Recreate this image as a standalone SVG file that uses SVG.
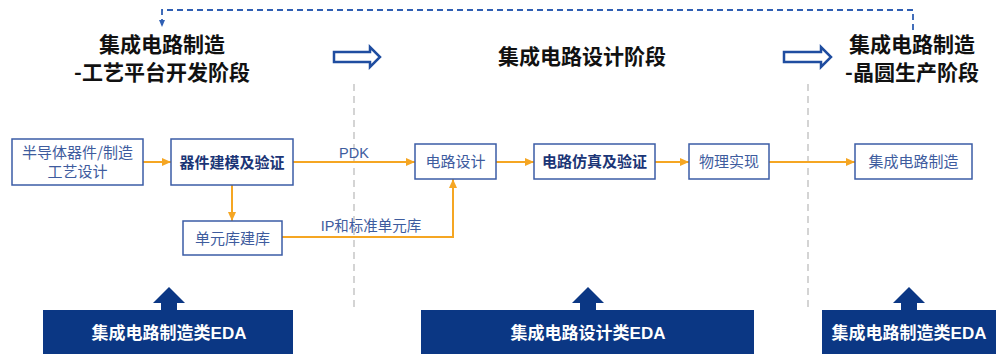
<svg xmlns="http://www.w3.org/2000/svg" width="1003" height="354" viewBox="0 0 1003 354">
<defs>
<style>
.title{font-family:"Noto Sans CJK SC","Liberation Sans",sans-serif;font-weight:bold;font-size:21px;fill:#111;text-anchor:middle}
.box{fill:#fff;stroke:#3b5ca6;stroke-width:1.5}
.bt{font-family:"Noto Sans CJK SC",sans-serif;font-size:15px;fill:#3e5c9e;text-anchor:middle}
.bb{font-family:"Noto Sans CJK SC",sans-serif;font-size:15px;font-weight:bold;fill:#1b3576;text-anchor:middle}
.lbl{font-family:"Liberation Sans","Noto Sans CJK SC",sans-serif;font-size:14.5px;fill:#3e5c9e;text-anchor:middle}
.conn{fill:none;stroke:#f5a623;stroke-width:2}
.sep{fill:none;stroke:#d4d4d4;stroke-width:2;stroke-dasharray:7 5}
.hollow{fill:#fff;stroke:#1f4da0;stroke-width:2.5;stroke-linejoin:miter}
.bar{fill:#0b3784}
.bart{font-family:"Liberation Sans","Noto Sans CJK SC",sans-serif;font-size:17px;font-weight:bold;fill:#fff;text-anchor:middle}
</style>
<marker id="oa" markerUnits="userSpaceOnUse" markerWidth="10" markerHeight="10" viewBox="0 0 10 10" refX="9" refY="5" orient="auto">
<path d="M0,1 L9,5 L0,9 Z" fill="#f5a623"/>
</marker>
<marker id="ba" markerUnits="userSpaceOnUse" markerWidth="8" markerHeight="8" viewBox="0 0 8 8" refX="7" refY="4" orient="auto">
<path d="M0,1 L7,4 L0,7 Z" fill="#2f5fb3"/>
</marker>
</defs>
<rect width="1003" height="354" fill="#fff"/>

<g id="separators">
<line class="sep" x1="354" y1="84" x2="354" y2="310"/>
<line class="sep" x1="808" y1="84" x2="808" y2="310"/>
</g>

<g id="titles">
<g id="title-1">
<text class="title" x="162" y="52">集成电路制造</text>
<text class="title" x="162" y="80">-工艺平台开发阶段</text>
</g>
<g id="title-2">
<text class="title" x="582" y="64">集成电路设计阶段</text>
</g>
<g id="title-3">
<text class="title" x="912" y="52">集成电路制造</text>
<text class="title" x="912" y="80">-晶圆生产阶段</text>
</g>
<g id="hollow-arrow-1"><path class="hollow" d="M334,52 H370 V47 L380,57 L370,67 V62 H334 Z"/></g>
<g id="hollow-arrow-2"><path class="hollow" d="M784,52 H821 V47 L831,57 L821,67 V62 H784 Z"/></g>
</g>

<g id="connectors">
<path d="M913,30 V10 H162 V27" fill="none" stroke="#2f5fb3" stroke-width="1.8" stroke-dasharray="6 4" marker-end="url(#ba)"/>
<path class="conn" d="M143,162 H171" marker-end="url(#oa)"/>
<path class="conn" d="M293,162 H415" marker-end="url(#oa)"/>
<path class="conn" d="M232,185 V221" marker-end="url(#oa)"/>
<path class="conn" d="M282,237 H453 V179" marker-end="url(#oa)"/>
<path class="conn" d="M496,162 H534" marker-end="url(#oa)"/>
<path class="conn" d="M655,162 H689" marker-end="url(#oa)"/>
<path class="conn" d="M769,162 H855" marker-end="url(#oa)"/>
<text class="lbl" x="354" y="158">PDK</text>
<text class="lbl" x="371" y="231">IP和标准单元库</text>
</g>

<g id="node-process">
<rect class="box" x="12" y="139" width="131" height="46"/>
<text class="bt" x="77.5" y="158">半导体器件/制造</text>
<text class="bt" x="77.5" y="177">工艺设计</text>
</g>
<g id="node-modeling">
<rect class="box" x="171" y="139" width="122" height="46"/>
<text class="bb" x="232" y="167.5">器件建模及验证</text>
</g>
<g id="node-library">
<rect class="box" x="183" y="221" width="99" height="34"/>
<text class="bt" x="232.5" y="243.5">单元库建库</text>
</g>
<g id="node-circuit-design">
<rect class="box" x="415" y="144" width="81" height="35"/>
<text class="bt" x="455.5" y="167">电路设计</text>
</g>
<g id="node-simulation">
<rect class="box" x="534" y="144" width="121" height="35"/>
<text class="bb" x="594.5" y="167">电路仿真及验证</text>
</g>
<g id="node-physical">
<rect class="box" x="689" y="144" width="80" height="35"/>
<text class="bt" x="729" y="167">物理实现</text>
</g>
<g id="node-fab">
<rect class="box" x="855" y="144" width="117" height="35"/>
<text class="bt" x="913.5" y="167">集成电路制造</text>
</g>

<g id="bar-1">
<path class="bar" d="M161,310 V303 H153 L169,287 L185,303 H177 V310 Z"/>
<rect class="bar" x="43" y="310" width="250" height="44"/>
<text class="bart" x="169" y="339">集成电路制造类EDA</text>
</g>
<g id="bar-2">
<path class="bar" d="M580,310 V303 H572 L588,287 L604,303 H596 V310 Z"/>
<rect class="bar" x="421" y="310" width="333" height="44"/>
<text class="bart" x="588" y="339">集成电路设计类EDA</text>
</g>
<g id="bar-3">
<path class="bar" d="M901,310 V303 H893 L909,287 L925,303 H917 V310 Z"/>
<rect class="bar" x="822" y="310" width="174" height="44"/>
<text class="bart" x="909" y="339">集成电路制造类EDA</text>
</g>
</svg>
